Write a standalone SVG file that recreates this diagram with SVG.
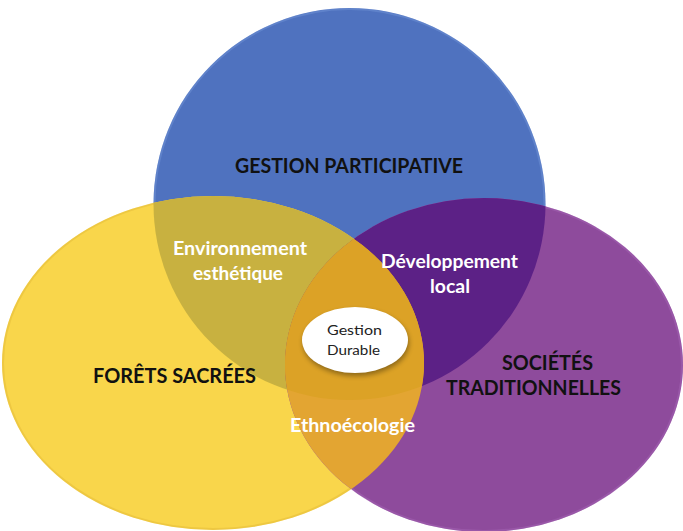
<svg xmlns="http://www.w3.org/2000/svg" width="683" height="531" viewBox="0 0 683 531">
<style>
.big{font-family:Lato,"Liberation Sans",sans-serif;font-weight:bold;font-size:21px;fill:#111}
.mid{font-family:Lato,"Liberation Sans",sans-serif;font-weight:bold;font-size:18px;fill:#fff}
.small{font-family:Lato,"Liberation Sans",sans-serif;font-size:13px;fill:#222}
.rim{fill:none;stroke-width:2;stroke-opacity:0.35}
</style>
<defs>
<clipPath id="cB"><circle cx="349.5" cy="204" r="196"/></clipPath>
<clipPath id="cY"><ellipse cx="213" cy="363" rx="211" ry="167"/></clipPath>
<clipPath id="cP"><ellipse cx="484" cy="365" rx="199" ry="167"/></clipPath>
<filter id="sh" x="-20%" y="-20%" width="140%" height="160%"><feGaussianBlur stdDeviation="2.5"/></filter>
</defs>
<rect width="683" height="531" fill="#fff"/>
<g id="gestion-participative">
<circle cx="349.5" cy="204" r="196" fill="#4f72bf"/>
<circle class="rim" cx="349.5" cy="204" r="195" stroke="#7fa0e0"/>
</g>
<g id="forets-sacrees">
<ellipse cx="213" cy="363" rx="211" ry="167" fill="#f9d64b"/>
<ellipse class="rim" cx="213" cy="363" rx="210" ry="166" stroke="#d9b030"/>
</g>
<g id="societes-traditionnelles">
<ellipse cx="484" cy="365" rx="199" ry="167" fill="#8e4b9c"/>
<ellipse class="rim" cx="484" cy="365" rx="198" ry="166" stroke="#b070c0"/>
</g>
<g id="overlaps">
<ellipse cx="213" cy="363" rx="211" ry="167" fill="#c8b140" clip-path="url(#cB)"/>
<circle cx="349.5" cy="204" r="196" fill="#5c2186" clip-path="url(#cP)"/>
<ellipse cx="213" cy="363" rx="211" ry="167" fill="#e3a532" clip-path="url(#cP)"/>
<g clip-path="url(#cP)"><ellipse cx="213" cy="363" rx="211" ry="167" fill="#dca226" clip-path="url(#cB)"/></g>
</g>
<g id="gestion-durable">
<ellipse cx="356" cy="343" rx="53" ry="33" fill="#000" opacity="0.35" filter="url(#sh)"/>
<ellipse cx="355" cy="340" rx="53" ry="33" fill="#fff"/>
<text class="small" x="327" y="335" textLength="55" lengthAdjust="spacingAndGlyphs">Gestion</text>
<text class="small" x="327" y="355" textLength="53" lengthAdjust="spacingAndGlyphs">Durable</text>
</g>
<g id="labels">
<text class="big" x="235" y="173" textLength="228" lengthAdjust="spacingAndGlyphs">GESTION PARTICIPATIVE</text>
<text class="big" x="93" y="383" textLength="163" lengthAdjust="spacingAndGlyphs">FORÊTS SACRÉES</text>
<text class="big" x="502" y="370" textLength="91" lengthAdjust="spacingAndGlyphs">SOCIÉTÉS</text>
<text class="big" x="446" y="395" textLength="175" lengthAdjust="spacingAndGlyphs">TRADITIONNELLES</text>
<text class="mid" x="173" y="255" textLength="134" lengthAdjust="spacingAndGlyphs">Environnement</text>
<text class="mid" x="193" y="280" textLength="90" lengthAdjust="spacingAndGlyphs">esthétique</text>
<text class="mid" x="381" y="268" textLength="137" lengthAdjust="spacingAndGlyphs">Développement</text>
<text class="mid" x="430" y="293" textLength="40" lengthAdjust="spacingAndGlyphs">local</text>
<text class="mid" x="290" y="432" textLength="125" lengthAdjust="spacingAndGlyphs">Ethnoécologie</text>
</g>
</svg>
